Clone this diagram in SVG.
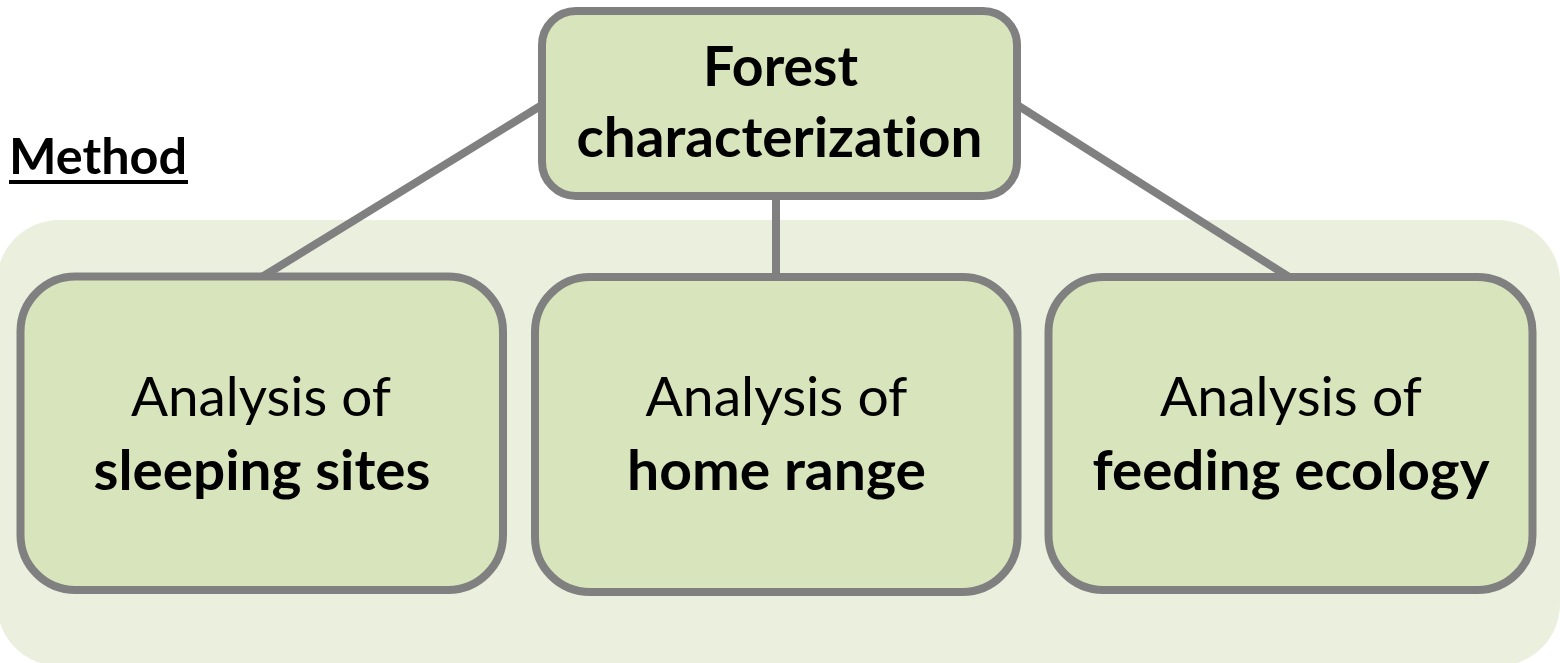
<svg xmlns="http://www.w3.org/2000/svg" width="1560" height="663" viewBox="0 0 1560 663">
<style>
.node{fill:#d8e4bc;stroke:#808080;stroke-width:8}
.conn{stroke:#808080;stroke-width:8;fill:none}
text{font-variant-ligatures:none;font-feature-settings:"liga" 0,"clig" 0,"dlig" 0}
.t{font-family:Lato,"Liberation Sans",sans-serif;fill:#000;text-anchor:middle}
.reg{font-size:55px;font-weight:400}
.bold{font-size:56px;font-weight:700}
</style>
<rect x="0" y="0" width="1560" height="663" fill="#ffffff"/>
<rect id="panel" x="-3" y="220" width="1563" height="446" rx="62" fill="#ebf0de"/>
<g id="title">
<text x="9" y="174" font-family="Lato,'Liberation Sans',sans-serif" font-size="50" font-weight="700" textLength="178" lengthAdjust="spacingAndGlyphs">Method</text>
<rect x="9" y="180" width="179" height="4" fill="#000"/>
</g>
<g id="connectors">
<line class="conn" x1="542" y1="105" x2="262" y2="277"/>
<line class="conn" x1="1017" y1="105" x2="1289" y2="277"/>
<line class="conn" x1="776" y1="196" x2="776" y2="277"/>
</g>
<g id="node-forest">
<rect class="node" x="542" y="11" width="475" height="185" rx="34"/>
<text class="t" x="780.5" y="86" font-size="55" font-weight="700" textLength="155" lengthAdjust="spacingAndGlyphs">Forest</text>
<text class="t" x="779.5" y="157" font-size="55" font-weight="700" textLength="406" lengthAdjust="spacingAndGlyphs">characterization</text>
</g>
<g id="node-sleeping">
<rect class="node" x="20.5" y="276.5" width="482.5" height="313.5" rx="55"/>
<text class="t reg" x="261" y="416" textLength="260" lengthAdjust="spacingAndGlyphs">Analysis of</text>
<text class="t bold" x="262" y="490" textLength="337" lengthAdjust="spacingAndGlyphs">sleeping sites</text>
</g>
<g id="node-home">
<rect class="node" x="535" y="277" width="482.5" height="315" rx="55"/>
<text class="t reg" x="776.5" y="416" textLength="262" lengthAdjust="spacingAndGlyphs">Analysis of</text>
<text class="t bold" x="776.5" y="490" textLength="299" lengthAdjust="spacingAndGlyphs">home range</text>
</g>
<g id="node-feeding">
<rect class="node" x="1048.5" y="277" width="484" height="313" rx="55"/>
<text class="t reg" x="1291" y="416" textLength="262" lengthAdjust="spacingAndGlyphs">Analysis of</text>
<text class="t bold" x="1291" y="490" textLength="397" lengthAdjust="spacingAndGlyphs">feeding ecology</text>
</g>
</svg>
